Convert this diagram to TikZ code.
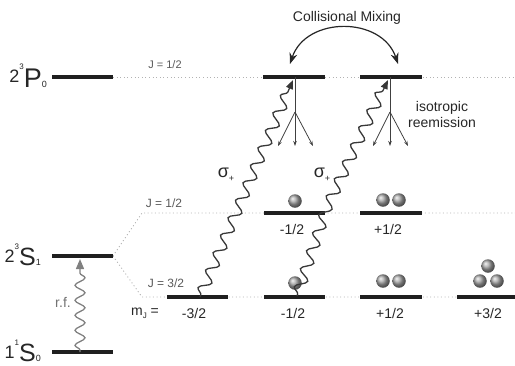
\documentclass[tikz,border=0pt]{standalone}
\usepackage{fontspec}
\setmainfont{Liberation Sans}
\usetikzlibrary{decorations.pathmorphing,arrows.meta}
\begin{document}
\begin{tikzpicture}[x=1pt,y=-1pt,
  level/.style={line width=3.3pt, black!88},
  dotline/.style={line width=0.9pt, gray!60, dash pattern=on 1pt off 2.6pt},
  photon/.style={decorate, decoration={snake, segment length=19pt, amplitude=5.5pt, pre length=2pt, post length=9pt}, line width=1.3pt, black!78},
  rfphoton/.style={decorate, decoration={snake, segment length=15pt, amplitude=5pt, pre length=2pt, post length=9pt}, line width=1.3pt, black!50},
  fanarrow/.style={line width=0.8pt, black!75, -{Stealth[length=5pt,width=3.5pt]}},
  ball/.style={circle, minimum size=13.5pt, inner sep=0pt, shading=ball, ball color=gray!70},
  lbl/.style={font=\fontsize{14}{14}\selectfont, text=black!85},
  jlbl/.style={font=\fontsize{12}{12}\selectfont, text=black!65},
]
\useasboundingbox (0,0) rectangle (515,365);

% coordinates of levels
\coordinate (PL) at (52,77);  \coordinate (PR) at (113,77);
\coordinate (SL) at (52,256); \coordinate (SR) at (113,256);
\coordinate (GL) at (52,352); \coordinate (GR) at (113,352);
\coordinate (Pa1) at (263,77); \coordinate (Pa2) at (325,77);
\coordinate (Pb1) at (360,77); \coordinate (Pb2) at (422,77);
\coordinate (Ua1) at (264,213); \coordinate (Ua2) at (325,213);
\coordinate (Ub1) at (360,213); \coordinate (Ub2) at (422,213);
\coordinate (La1) at (167,297); \coordinate (La2) at (228,297);
\coordinate (Lb1) at (264,297); \coordinate (Lb2) at (325,297);
\coordinate (Lc1) at (360,297); \coordinate (Lc2) at (422,297);
\coordinate (Ld1) at (457,297); \coordinate (Ld2) at (515,297);
\coordinate (Ukink) at (142,213); \coordinate (Lkink) at (142,297);
\coordinate (Pend) at (515,77); \coordinate (Uend) at (515,213);

% dotted guide lines
\draw[dotline] (PR) -- (Pend);
\draw[dotline] (SR) -- (Ukink) -- (Uend);
\draw[dotline] (SR) -- (Lkink) -- (Ld2);

% levels
\foreach \a/\b in {PL/PR,SL/SR,GL/GR,Pa1/Pa2,Pb1/Pb2,Ua1/Ua2,Ub1/Ub2,La1/La2,Lb1/Lb2,Lc1/Lc2,Ld1/Ld2}
  \draw[level] (\a) -- (\b);

% term labels
\node[anchor=base east, inner sep=0pt, text=black!85] (tP) at (47,87)
  {\raisebox{5pt}{\fontsize{18}{18}\selectfont 2}\raisebox{18pt}{\fontsize{8}{8}\selectfont 3}\fontsize{27}{27}\selectfont P\fontsize{9}{9}\selectfont 0};
\node[anchor=base east, inner sep=0pt, text=black!85] (tS) at (41,265)
  {\raisebox{3pt}{\fontsize{18}{18}\selectfont 2}\raisebox{16pt}{\fontsize{8}{8}\selectfont 3}\fontsize{25}{25}\selectfont S\fontsize{9}{9}\selectfont 1};
\node[anchor=base east, inner sep=0pt, text=black!85] (tG) at (41,361)
  {\raisebox{3pt}{\fontsize{18}{18}\selectfont 1}\raisebox{16pt}{\fontsize{8}{8}\selectfont 1}\fontsize{25}{25}\selectfont S\fontsize{9}{9}\selectfont 0};

% J labels
\node[jlbl, font=\fontsize{11}{11}\selectfont] (jP) at (165,65) {J = 1/2};
\node[jlbl] (jU) at (164,203) {J = 1/2};
\node[jlbl] (jL) at (166,283) {J = 3/2};

% mJ labels
\node[lbl] (mj) at (145,313) {m\raisebox{-3pt}{\fontsize{8}{8}\selectfont J} =};
\node[lbl] (m1) at (194,313) {-3/2};
\node[lbl] (m2) at (293,313) {-1/2};
\node[lbl] (m3) at (390,313) {+1/2};
\node[lbl] (m4) at (488,313) {+3/2};
\node[lbl] (u1) at (292,229) {-1/2};
\node[lbl] (u2) at (388,229) {+1/2};

% atoms
\node[ball] (b1) at (295,201) {};
\node[ball] (b2) at (383,200) {};
\node[ball] (b3) at (399,200) {};
\node[ball] (b4) at (295,283) {};
\node[ball] (b5) at (383,281) {};
\node[ball] (b6) at (399,281) {};
\node[ball] (b7) at (480,281) {};
\node[ball] (b8) at (497,281) {};
\node[ball] (b9) at (488,266) {};

% r.f. photon
\coordinate (rfS) at (80,352); \coordinate (rfE) at (80,259);
\draw[rfphoton, -{Triangle[length=10pt,width=8pt]}] (rfS) -- (rfE);
\node[lbl, text=black!55] (rf) at (63,302) {r.f.};

% sigma+ photons
\coordinate (s1S) at (200,297); \coordinate (s1E) at (293,80);
\draw[photon, -{Triangle[length=9pt,width=7pt]}] (s1S) -- (s1E);
\coordinate (s2S) at (297,296); \coordinate (s2K) at (325,213); \coordinate (s2E) at (388,80);
\draw[photon, -{Triangle[length=9pt,width=7pt]}] (s2S) -- (s2K) -- (s2E);
\node[text=black!85] (sg1) at (226,175) {\fontsize{18}{18}\selectfont σ\raisebox{-4pt}{\fontsize{9}{9}\selectfont +}};
\node[text=black!85] (sg2) at (322,175) {\fontsize{18}{18}\selectfont σ\raisebox{-4pt}{\fontsize{9}{9}\selectfont +}};

% isotropic reemission fans
\foreach \x/\n in {295/f1,390/f2}{
  \coordinate (\n top) at (\x,77);
  \coordinate (\n mid) at (\x,112);
  \coordinate (\n l) at (\x-17,146);
  \coordinate (\n c) at (\x,146);
  \coordinate (\n r) at (\x+18,146);
  \draw[line width=0.9pt, black!75] (\n top) -- (\n mid);
  \draw[fanarrow] (\n mid) -- (\n l);
  \draw[fanarrow] (\n mid) -- (\n c);
  \draw[fanarrow] (\n mid) -- (\n r);
}
\node[lbl, align=center, font=\fontsize{14}{16}\selectfont] (iso) at (442,114) {isotropic\\reemission};

% collisional mixing
\node[lbl] (cm) at (347,18) {Collisional Mixing};
\coordinate (cmL) at (290,64); \coordinate (cmR) at (398,64);
\draw[line width=1.2pt, black!85, {Stealth[length=11pt,width=8pt]}-{Stealth[length=11pt,width=8pt]}]
  (cmL) .. controls (306,16) and (382,16) .. (cmR);
\end{tikzpicture}
\end{document}
